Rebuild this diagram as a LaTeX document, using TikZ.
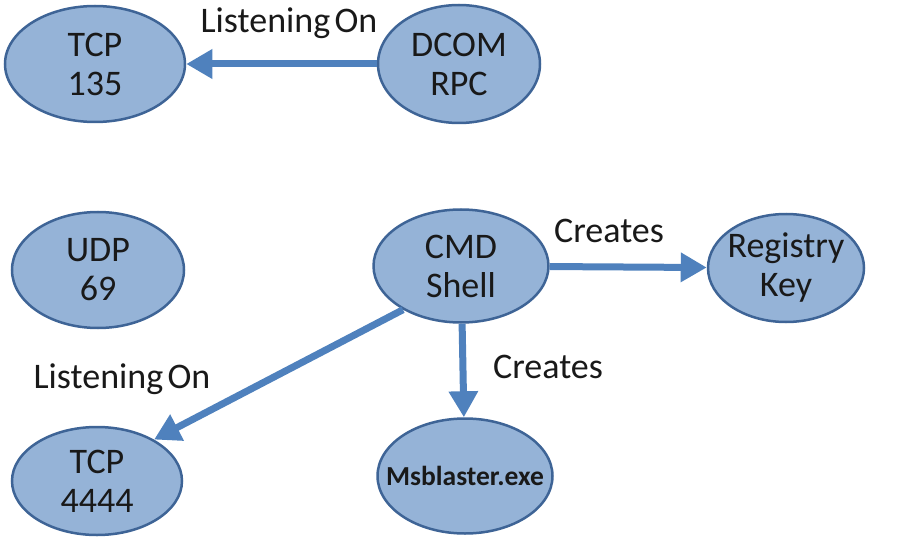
\documentclass[tikz,border=0pt]{standalone}
\usepackage{fontspec}
\setmainfont{Carlito}
\usetikzlibrary{shapes.geometric,arrows.meta}
\definecolor{nodefill}{HTML}{95B3D7}
\definecolor{nodeline}{HTML}{3E6496}
\definecolor{arrowcol}{HTML}{4F81BD}
\begin{document}
\begin{tikzpicture}[x=1pt,y=-1pt,
  ell/.style={ellipse,draw=nodeline,fill=nodefill,line width=2.5pt,inner sep=0pt,
    align=center,font=\fontsize{36}{39}\selectfont,text=black!90},
  conn/.style={draw=arrowcol,line width=7pt,-{Triangle[length=26pt,width=28pt]}},
  lbl/.style={anchor=base,font=\fontsize{36}{40}\selectfont,text=black!90,inner sep=0pt}]
\useasboundingbox (0,0) rectangle (899,540);
\node[ell,minimum width=180pt,minimum height=116pt] (tcpa) at (95,64) {TCP\\135};
\node[ell,minimum width=162pt,minimum height=118pt] (dcom) at (459,64) {DCOM\\RPC};
\node[ell,minimum width=172pt,minimum height=116pt] (udp) at (98,270) {UDP\\69};
\node[ell,minimum width=175pt,minimum height=113pt] (cmd) at (461,266) {CMD\\Shell};
\node[ell,minimum width=156pt,minimum height=108pt,inner xsep=-5pt] (reg) at (786,268) {Registry\\Key};
\node[ell,minimum width=170pt,minimum height=108pt] (tcpb) at (97,481) {TCP\\4444};
\node[ell,minimum width=175pt,minimum height=115pt,inner xsep=-17pt,font=\bfseries\fontsize{27.5}{30}\selectfont] (msb) at (465,476) {Msblaster.exe};
\draw[conn] (dcom) -- (tcpa);
\draw[conn] (cmd) -- (reg);
\draw[conn] (cmd) -- (msb);
\draw[conn] (cmd.217) -- (tcpb.36);
\node[lbl] (l1) at (289,33) {\spaceskip=0.12em Listening On};
\node[lbl] (l2) at (609,242) {Creates};
\node[lbl] (l3) at (548,378) {Creates};
\node[lbl] (l4) at (122,388) {\spaceskip=0.12em Listening On};
\end{tikzpicture}
\end{document}
